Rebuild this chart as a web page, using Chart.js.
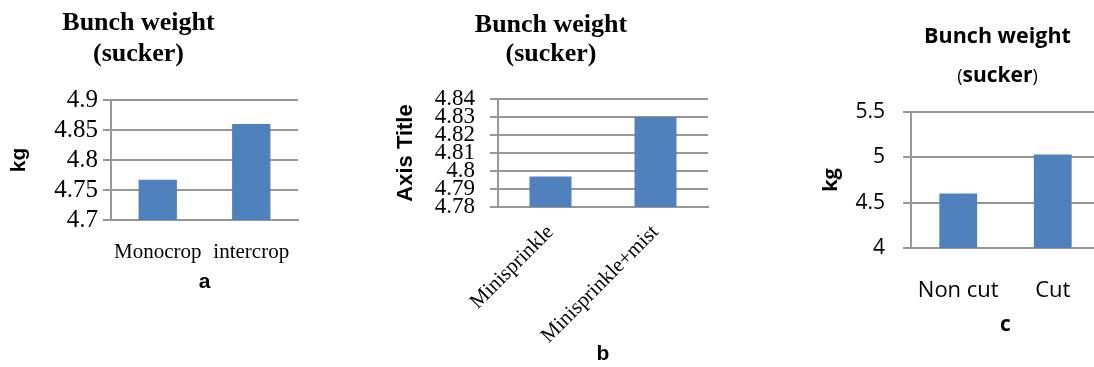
<!DOCTYPE html>
<html>
<head>
<meta charset="utf-8">
<script src="https://cdn.jsdelivr.net/npm/chart.js@4"></script>
<style>
  html, body { margin: 0; padding: 0; background: #fff; overflow: hidden; width: 1094px; height: 367px; position: relative; }
  canvas { position: absolute; top: 0; }
</style>
</head>
<body>
<canvas id="panelA" width="320" height="300" style="left:0px"></canvas>
<canvas id="panelB" width="340" height="367" style="left:380px"></canvas>
<canvas id="panelC" width="310" height="340" style="left:790px"></canvas>
<script>
// ---- Panel a: cropping system ----
const catsA = ['Monocrop', 'intercrop'];
const valsA = [4.767, 4.86];
const tickValsA = [4.7, 4.75, 4.8, 4.85, 4.9];
const tickLabelsA = ['4.7', '4.75', '4.8', '4.85', '4.9'];

// ---- Panel b: irrigation ----
const catsB = ['Minisprinkle', 'Minisprinkle+mist'];
const valsB = [4.797, 4.83];
const tickValsB = [4.78, 4.79, 4.8, 4.81, 4.82, 4.83, 4.84];
const tickLabelsB = ['4.78', '4.79', '4.8', '4.81', '4.82', '4.83', '4.84'];

// ---- Panel c: leaf cutting ----
const catsC = ['Non cut', 'Cut'];
const valsC = [4.6, 5.03];
const tickValsC = [4, 4.5, 5, 5.5];
const tickLabelsC = ['4', '4.5', '5', '5.5'];

const BAR = '#4f81bd';
const GRID = '#979797';
const SERIF = '"Liberation Serif", "Times New Roman", serif';
const SANS = '"Liberation Sans", Arial, sans-serif';
const OPEN = '"Open Sans", "Liberation Sans", sans-serif';

// Draws a centred heading; each line is made of runs that may use different fonts.
function headingPlugin(x, lines) {
  return {
    id: 'heading',
    afterDraw(chart) {
      const ctx = chart.ctx;
      ctx.save();
      ctx.fillStyle = '#000';
      ctx.textAlign = 'left';
      ctx.textBaseline = 'alphabetic';
      for (const line of lines) {
        let total = 0;
        const sized = line.runs.map(r => {
          ctx.font = r.font;
          const w = ctx.measureText(r.text).width;
          total += w;
          return { text: r.text, font: r.font, w };
        });
        let cx = x - total / 2;
        for (const r of sized) {
          ctx.font = r.font;
          ctx.fillText(r.text, cx, line.y);
          cx += r.w;
        }
      }
      ctx.restore();
    }
  };
}

function buildPanel(id, cats, vals, tickVals, tickLabels, cfg) {
  return new Chart(document.getElementById(id), {
    type: 'bar',
    data: {
      labels: cats,
      datasets: [{
        data: vals,
        backgroundColor: BAR,
        borderWidth: 0,
        barPercentage: cfg.barPct,
        categoryPercentage: 1
      }]
    },
    options: {
      responsive: false,
      animation: false,
      layout: { padding: { left: 0, right: cfg.padRight, top: cfg.padTop, bottom: 0 } },
      plugins: { legend: { display: false }, tooltip: { enabled: false }, title: { display: false } },
      scales: {
        x: {
          grid: { display: false },
          border: { display: true, color: GRID, width: 2 },
          afterFit: s => { s.height = cfg.xHeight; },
          ticks: {
            color: '#000',
            font: cfg.xFont,
            padding: cfg.xPad,
            autoSkip: false,
            minRotation: cfg.xRot,
            maxRotation: cfg.xRot
          },
          title: {
            display: true,
            text: cfg.xTitle,
            color: '#000',
            font: cfg.xTitleFont,
            padding: { top: 0, bottom: cfg.xTitlePad }
          }
        },
        y: {
          min: tickVals[0],
          max: tickVals[tickVals.length - 1],
          afterBuildTicks: s => { s.ticks = tickVals.map(v => ({ value: v })); },
          afterFit: s => { s.width = cfg.yWidth; },
          grid: { color: GRID, lineWidth: 2, drawTicks: true, tickLength: 8 },
          border: { display: true, color: GRID, width: 2 },
          ticks: {
            color: '#000',
            font: cfg.yFont,
            padding: cfg.yPad,
            autoSkip: false,
            callback: (v, i) => tickLabels[i]
          },
          title: {
            display: true,
            text: cfg.yTitle,
            color: '#000',
            font: cfg.yTitleFont,
            padding: { top: cfg.yTitlePad, bottom: 0 }
          }
        }
      }
    },
    plugins: [headingPlugin(cfg.headX, cfg.headLines)]
  });
}

// a
buildPanel('panelA', catsA, valsA, tickValsA, tickLabelsA, {
  barPct: 0.41, padRight: 22, padTop: 100, yWidth: 111, xHeight: 80,
  xFont: { family: SERIF, size: 21 }, xPad: 12, xRot: 0,
  xTitle: 'a', xTitleFont: { family: SANS, size: 21, weight: 'bold' }, xTitlePad: 5,
  yFont: { family: SERIF, size: 25 }, yPad: 5,
  yTitle: 'kg', yTitleFont: { family: SANS, size: 21, weight: 'bold' }, yTitlePad: 7,
  headX: 138.5,
  headLines: [
    { y: 30, runs: [{ text: 'Bunch weight', font: 'bold 26px ' + SERIF }] },
    { y: 61, runs: [{ text: '(sucker)', font: 'bold 26px ' + SERIF }] }
  ]
});

// b
buildPanel('panelB', catsB, valsB, tickValsB, tickLabelsB, {
  barPct: 0.4, padRight: 12, padTop: 99, yWidth: 118, xHeight: 160,
  xFont: { family: SERIF, size: 21 }, xPad: 5, xRot: 45,
  xTitle: 'b', xTitleFont: { family: SANS, size: 21, weight: 'bold' }, xTitlePad: 0,
  yFont: { family: SERIF, size: 23 }, yPad: 15,
  yTitle: 'Axis Title', yTitleFont: { family: SANS, size: 22, weight: 'bold' }, yTitlePad: 13,
  headX: 171,
  headLines: [
    { y: 32, runs: [{ text: 'Bunch weight', font: 'bold 26px ' + SERIF }] },
    { y: 61, runs: [{ text: '(sucker)', font: 'bold 26px ' + SERIF }] }
  ]
});

// c
buildPanel('panelC', catsC, valsC, tickValsC, tickLabelsC, {
  barPct: 0.4, padRight: 0, padTop: 112, yWidth: 121, xHeight: 92,
  xFont: { family: OPEN, size: 22 }, xPad: 22, xRot: 0,
  xTitle: 'c', xTitleFont: { family: OPEN, size: 21, weight: 'bold' }, xTitlePad: 2,
  yFont: { family: OPEN, size: 21 }, yPad: 18,
  yTitle: 'kg', yTitleFont: { family: OPEN, size: 20, weight: 'bold' }, yTitlePad: 29,
  headX: 207.5,
  headLines: [
    { y: 43, runs: [{ text: 'Bunch weight', font: 'bold 21.5px ' + OPEN }] },
    { y: 82, runs: [
      { text: '(', font: '18px ' + OPEN },
      { text: 'sucker', font: 'bold 21px ' + OPEN },
      { text: ')', font: '18px ' + OPEN }
    ] }
  ]
});
</script>
</body>
</html>
